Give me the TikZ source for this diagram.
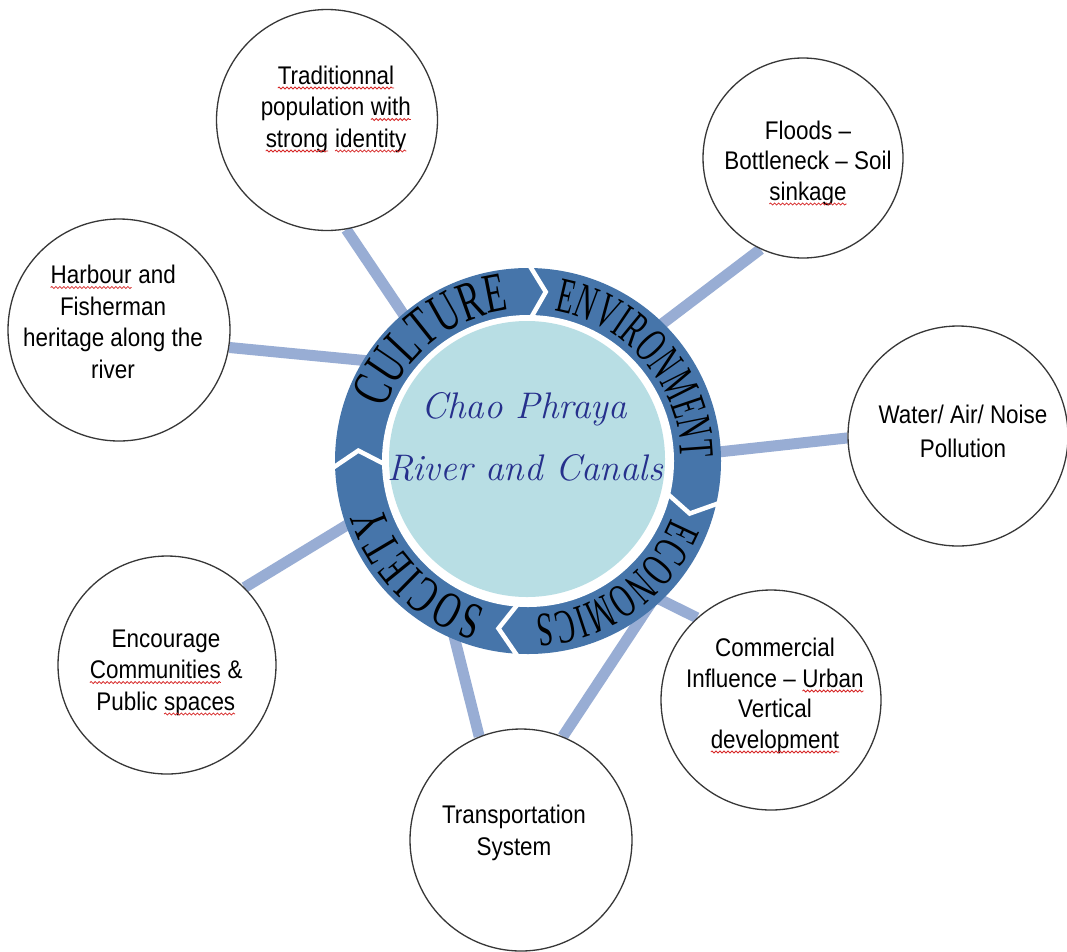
\documentclass[tikz,border=0pt]{standalone}
\usepackage{fontspec}
\usetikzlibrary{decorations.text,decorations.pathmorphing}
\newfontfamily\bubblefont[FakeStretch=0.88]{Liberation Sans}
\newfontfamily\ringfontA[FakeStretch=0.64]{Liberation Serif}
\newfontfamily\ringfontB[FakeStretch=0.56]{Liberation Serif}
\newfontfamily\ringfontC[FakeStretch=0.60]{Liberation Serif}
\newfontfamily\ringfontD[FakeStretch=0.66]{Liberation Serif}

\definecolor{ringblue}{RGB}{70,117,170}
\definecolor{corelight}{RGB}{184,222,228}
\definecolor{barblue}{RGB}{152,173,212}
\definecolor{titleblue}{RGB}{38,48,140}
\definecolor{rimgray}{RGB}{55,55,55}
\definecolor{spellred}{RGB}{215,40,40}

\pgfdeclarelayer{background}
\pgfsetlayers{background,main}

\tikzset{
  bubble/.style={circle, draw=rimgray, line width=1.3pt, fill=white, inner sep=0pt},
  bubbletext/.style={font=\bubblefont\fontsize{25.5}{31.5}\selectfont, align=center, anchor=base, inner sep=0pt},
  bar/.style={draw=barblue, line width=11pt},
  chevron/.style={draw=white, line width=4.5pt, line join=miter},
  titletext/.style={font=\itshape\fontsize{37}{40}\selectfont, text=titleblue, anchor=base, inner sep=0pt},
  spellline/.style={draw=spellred, line width=0.8pt, decorate, decoration={snake, amplitude=1pt, segment length=4pt}},
  ringword/.style={decorate, decoration={text along path, text align={fit to path}, text={#1}}}
}

% a word with a wavy red underline
\newcommand\spellmark[1]{\tikz[baseline=(sw.base)]{\node[inner sep=0pt,outer sep=0pt,anchor=base](sw) at (0,0){#1};\path[spellline]([yshift=-4pt]sw.base west)--([yshift=-4pt]sw.base east);}}

\begin{document}
\begin{tikzpicture}[x=1pt,y=-1pt]
\useasboundingbox (0,0) rectangle (1067,951);
\begin{pgfonlayer}{background}
  \fill[white] (0,0) rectangle (1067,951);
\end{pgfonlayer}

% central ring with its four arrow segments
\begin{scope}[shift={(528,461)}, y=1pt]
  \fill[ringblue] (0,0) circle[radius=193];
  \draw[chevron] (90:138) -- (84:170) -- (90:198);
  \draw[chevron] (-12:138) -- (-18:170) -- (-12:198);
  \draw[chevron] (267.5:138) -- (260:170) -- (267.5:198);
  \draw[chevron] (182.5:138) -- (176.5:170) -- (182.5:198);
  \fill[white] (0,0) circle[radius=146];
  \fill[corelight] (-1,2) circle[radius=138];
  \path[ringword={|\ringfontA\fontsize{56}{60}\selectfont|CULTURE}]
    (160:152) arc[start angle=160, end angle=97, radius=152];
  \path[ringword={|\ringfontB\fontsize{50}{54}\selectfont|ENVIRONMENT}]
    (80:153) arc[start angle=80, end angle=1, radius=153];
  \path[ringword={|\ringfontC\fontsize{48}{52}\selectfont|ECONOMICS}]
    (-22:154) arc[start angle=-22, end angle=-87, radius=154];
  \path[ringword={|\ringfontD\fontsize{52}{56}\selectfont|SOCIETY}]
    (254:153) arc[start angle=254, end angle=197, radius=153];
\end{scope}

\node[titletext] (title1) at (524,418) {Chao Phraya};
\node[titletext] (title2) at (525,480) {River and Canals};

% surrounding themes (text nodes are anchored at their last baseline)
\node[bubble, minimum size=221pt] (trad) at (327,120) {};
\node[bubbletext] (tradtxt) at (336,147)
  {\spellmark{Traditionnal}\\population \spellmark{with}\\\spellmark{strong} \spellmark{identity}};

\node[bubble, minimum size=200pt] (floods) at (803,158) {};
\node[bubbletext, font=\bubblefont\fontsize{25.5}{30.5}\selectfont] (floodstxt) at (808,200)
  {Floods –\\Bottleneck – Soil\\\spellmark{sinkage}};

\node[bubble, minimum size=222pt] (harbour) at (119,330) {};
\node[bubbletext] (harbourtxt) at (113,378)
  {\spellmark{Harbour} and\\Fisherman\\heritage along the\\river};

\node[bubble, minimum size=220pt] (water) at (958,436) {};
\node[bubbletext, font=\bubblefont\fontsize{25.5}{34}\selectfont] (watertxt) at (963,457)
  {Water/ Air/ Noise\\Pollution};

\node[bubble, minimum size=218pt] (enc) at (167,665) {};
\node[bubbletext] (enctxt) at (166,710)
  {Encourage\\\spellmark{Communities} \&\\Public \spellmark{spaces}};

\node[bubble, minimum size=220pt] (comm) at (771,700) {};
\node[bubbletext, font=\bubblefont\fontsize{25.5}{30.5}\selectfont] (commtxt) at (775,748)
  {Commercial\\Influence – \spellmark{Urban}\\Vertical\\\spellmark{development}};

\node[bubble, minimum size=222pt] (trans) at (521,840) {};
\node[bubbletext, font=\bubblefont\fontsize{25.5}{32}\selectfont] (transtxt) at (514,855)
  {Transportation\\System};

% ends of the links, hidden under the ring
\coordinate (e1) at (414,330);
\coordinate (e2) at (380,362);
\coordinate (e3) at (650,333);
\coordinate (e4) at (700,454);
\coordinate (e5) at (370,511);
\coordinate (e6) at (450,620);
\coordinate (j) at (655,597);

\begin{pgfonlayer}{background}
  \draw[bar] (trad.-80) -- (e1);
  \draw[bar] (harbour.-9) -- (e2);
  \draw[bar] (floods.-115) -- (e3);
  \draw[bar] (water.181) -- (e4);
  \draw[bar] (enc.45) -- (e5);
  \draw[bar] (trans.112) -- (e6);
  \draw[bar, line join=round] (trans.68) -- (j) -- (comm.132);
\end{pgfonlayer}
\end{tikzpicture}
\end{document}
